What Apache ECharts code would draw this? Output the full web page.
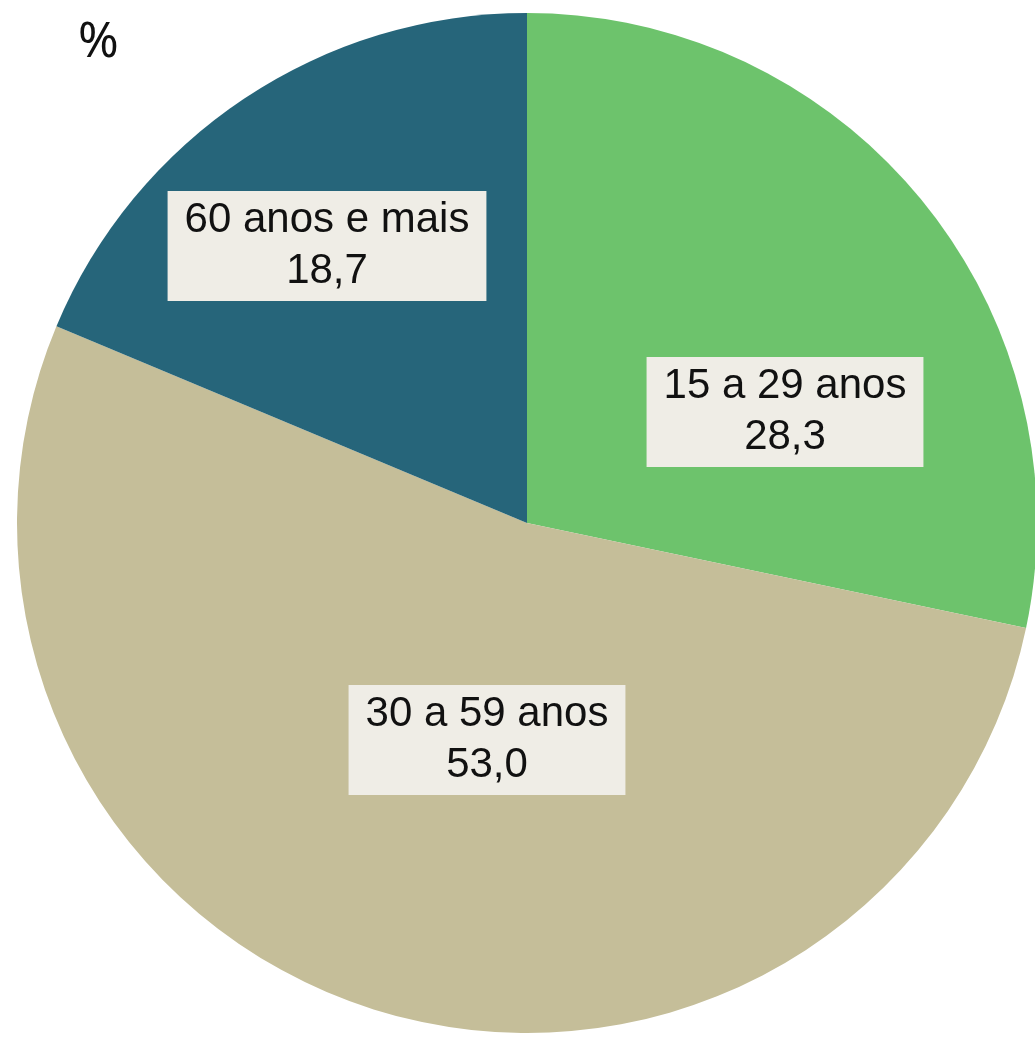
<!DOCTYPE html>
<html>
<head>
<meta charset="utf-8">
<script src="https://cdn.jsdelivr.net/npm/echarts@6/dist/echarts.min.js"></script>
<style>
html,body{margin:0;padding:0;background:#fff;}
#c{width:1035px;height:1038px;}
</style>
</head>
<body>
<div id="c"></div>
<script>
const categories = ['15 a 29 anos', '30 a 59 anos', '60 anos e mais'];
const values = [28.3, 53.0, 18.7];
const colors = ['#6DC36C', '#C5BE99', '#26657A'];
const labelCenters = [[785, 412], [487, 740], [327, 246]];

const chart = echarts.init(document.getElementById('c'), null, {renderer: 'canvas'});
chart.setOption({
  backgroundColor: '#ffffff',
  animation: false,
  title: {
    text: '%',
    left: 73,
    top: 14,
    textStyle: {fontFamily: 'Noto Sans', fontSize: 49, fontWeight: 'normal', color: '#111'}
  },
  series: [{
    type: 'pie',
    center: [527, 523],
    radius: [0, 510],
    startAngle: 90,
    clockwise: true,
    silent: true,
    data: categories.map((c, i) => ({name: c, value: values[i], itemStyle: {color: colors[i]}})),
    label: {
      show: true,
      position: 'inside',
      formatter: p => p.name + '\n' + p.value.toFixed(1).replace('.', ','),
      fontFamily: 'Liberation Sans, Arial, sans-serif',
      fontSize: 42,
      lineHeight: 51,
      color: '#111',
      backgroundColor: '#EFEDE6',
      padding: [4, 17, 4, 17],
      align: 'center',
      verticalAlign: 'middle'
    },
    labelLine: {show: false},
    labelLayout: function (params) {
      const p = labelCenters[params.dataIndex];
      return {x: p[0], y: p[1], align: 'center', verticalAlign: 'middle'};
    }
  }]
});
</script>
</body>
</html>
